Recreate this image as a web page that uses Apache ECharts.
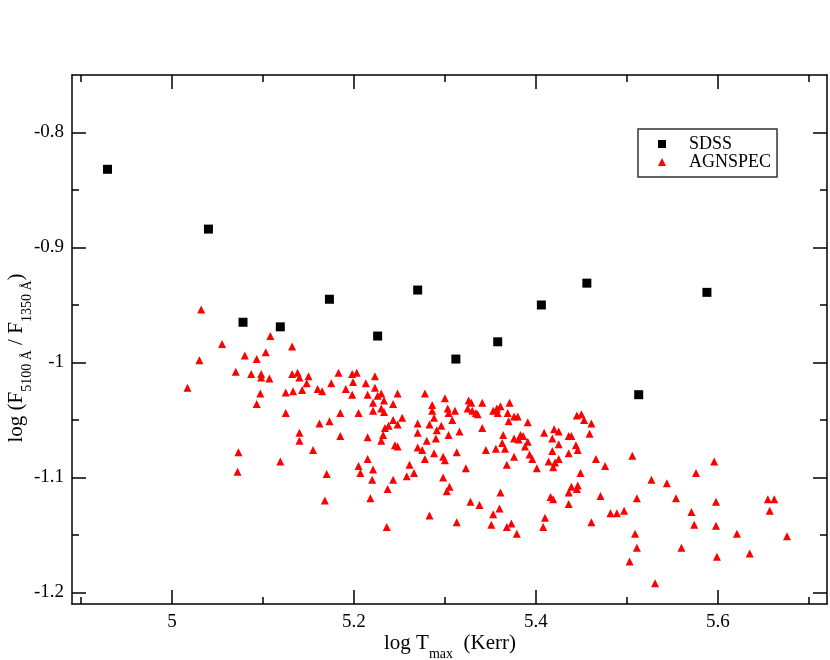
<!DOCTYPE html>
<html>
<head>
<meta charset="utf-8">
<script src="https://cdn.jsdelivr.net/npm/echarts@6/dist/echarts.min.js"></script>
<style>
html,body{margin:0;padding:0;background:#fff;}
#chart{width:830px;height:660px;}
</style>
</head>
<body>
<div id="chart"></div>
<script>
// ---- data ----
const sdssPoints = [
  [4.929,-0.832],[5.040,-0.884],[5.078,-0.965],[5.119,-0.969],[5.173,-0.945],
  [5.226,-0.977],[5.270,-0.937],[5.312,-0.997],[5.358,-0.982],[5.406,-0.950],
  [5.456,-0.931],[5.513,-1.028],[5.588,-0.939]
];
const agnspecPoints = [
  [5.032,-0.954],[5.055,-0.984],[5.108,-0.977],[5.080,-0.994],[5.103,-0.991],[5.093,-0.997],[5.030,-0.998],
  [5.070,-1.008],[5.087,-1.010],[5.098,-1.010],[5.098,-1.013],[5.107,-1.014],[5.017,-1.022],[5.097,-1.027],
  [5.093,-1.036],[5.073,-1.078],[5.072,-1.095],[5.119,-1.086],[5.132,-0.986],
  [5.132,-1.010],[5.138,-1.009],[5.140,-1.013],[5.150,-1.012],[5.148,-1.018],[5.125,-1.026],[5.133,-1.025],
  [5.143,-1.024],[5.160,-1.023],[5.165,-1.025],[5.175,-1.018],[5.183,-1.009],[5.198,-1.010],[5.203,-1.009],
  [5.199,-1.017],[5.191,-1.023],[5.198,-1.028],[5.213,-1.018],[5.223,-1.012],[5.223,-1.022],[5.215,-1.028],
  [5.226,-1.029],[5.230,-1.027],[5.248,-1.027],[5.221,-1.035],[5.233,-1.033],[5.243,-1.036],[5.230,-1.040],
  [5.221,-1.042],[5.233,-1.043],[5.278,-1.027],[5.300,-1.031],[5.286,-1.037],[5.286,-1.042],[5.303,-1.040],
  [5.304,-1.044],[5.125,-1.044],[5.185,-1.044],[5.205,-1.044],[5.162,-1.053],[5.173,-1.051],[5.140,-1.061],
  [5.140,-1.068],[5.185,-1.064],[5.155,-1.076],[5.170,-1.097],[5.168,-1.120],[5.215,-1.065],[5.230,-1.068],
  [5.232,-1.063],[5.234,-1.057],[5.238,-1.055],[5.243,-1.050],[5.248,-1.054],[5.253,-1.048],[5.245,-1.072],
  [5.248,-1.073],[5.215,-1.084],[5.205,-1.090],[5.221,-1.093],[5.207,-1.096],[5.220,-1.102],[5.243,-1.102],
  [5.237,-1.110],[5.218,-1.118],[5.236,-1.143],[5.261,-1.089],[5.258,-1.099],[5.266,-1.096],[5.270,-1.053],
  [5.270,-1.061],[5.283,-1.054],[5.288,-1.048],[5.296,-1.055],[5.291,-1.059],[5.290,-1.066],[5.280,-1.068],
  [5.270,-1.074],[5.275,-1.076],[5.288,-1.079],[5.278,-1.084],[5.298,-1.082],[5.300,-1.085],[5.298,-1.100],
  [5.302,-1.112],[5.305,-1.108],[5.283,-1.133],[5.304,-1.063],
  [5.326,-1.033],[5.329,-1.035],[5.341,-1.035],[5.371,-1.035],[5.311,-1.042],[5.325,-1.040],[5.330,-1.042],
  [5.334,-1.044],[5.336,-1.045],[5.353,-1.042],[5.357,-1.040],[5.361,-1.038],[5.358,-1.044],[5.369,-1.044],
  [5.376,-1.047],[5.380,-1.047],[5.370,-1.051],[5.391,-1.052],[5.308,-1.050],[5.341,-1.057],[5.316,-1.060],
  [5.364,-1.063],[5.376,-1.066],[5.383,-1.063],[5.386,-1.064],[5.381,-1.067],[5.391,-1.069],[5.363,-1.070],
  [5.388,-1.073],[5.366,-1.075],[5.356,-1.075],[5.345,-1.076],[5.313,-1.078],[5.376,-1.082],[5.393,-1.080],
  [5.396,-1.084],[5.368,-1.089],[5.401,-1.092],[5.323,-1.092],[5.361,-1.113],[5.328,-1.121],[5.338,-1.124],
  [5.360,-1.127],[5.353,-1.132],[5.313,-1.139],[5.351,-1.141],[5.368,-1.143],[5.373,-1.140],[5.379,-1.149],
  [5.409,-1.061],[5.420,-1.058],[5.425,-1.060],[5.418,-1.066],[5.436,-1.064],[5.439,-1.064],[5.425,-1.071],
  [5.418,-1.077],[5.414,-1.086],[5.425,-1.084],[5.421,-1.087],[5.419,-1.091],[5.436,-1.079],[5.444,-1.072],
  [5.446,-1.076],[5.445,-1.046],[5.450,-1.045],[5.453,-1.050],[5.461,-1.053],[5.459,-1.062],[5.449,-1.096],
  [5.466,-1.084],[5.476,-1.090],[5.439,-1.108],[5.446,-1.107],[5.445,-1.110],[5.436,-1.113],[5.416,-1.117],
  [5.419,-1.119],[5.436,-1.123],[5.471,-1.116],[5.410,-1.135],[5.408,-1.143],[5.461,-1.139],[5.482,-1.131],
  [5.489,-1.131],
  [5.506,-1.081],[5.596,-1.086],[5.576,-1.096],[5.527,-1.102],[5.544,-1.105],[5.511,-1.118],[5.554,-1.118],
  [5.598,-1.121],[5.497,-1.129],[5.571,-1.130],[5.574,-1.141],[5.598,-1.142],[5.655,-1.119],[5.662,-1.119],
  [5.657,-1.129],[5.621,-1.149],[5.676,-1.151],[5.509,-1.149],[5.511,-1.161],[5.560,-1.161],[5.599,-1.169],
  [5.635,-1.166],[5.503,-1.173],[5.531,-1.192]
];
const xMajorTicks = [5, 5.2, 5.4, 5.6];
const xMinorTicks = [4.9, 5.1, 5.3, 5.5, 5.7];
const yMajorTicks = [-1.2, -1.1, -1, -0.9, -0.8];
const yMinorTicks = [-1.15, -1.05, -0.95, -0.85];
const xRange = [4.89, 5.72];
const yRange = [-1.21, -0.75];
const seriesNames = ['SDSS', 'AGNSPEC'];

// ---- chart ----
const FONT = 'Liberation Serif';
const chart = echarts.init(document.getElementById('chart'), null, {renderer: 'canvas'});
const lineStyle = {color: '#000', width: 1.5};

function xAxisDef(position, ticks, len, showLine, showLabels) {
  return {
    type: 'value', position: position, min: xRange[0], max: xRange[1],
    axisLine: {show: showLine, onZero: false, lineStyle: lineStyle},
    axisTick: {show: true, inside: true, length: len, customValues: ticks, lineStyle: lineStyle},
    axisLabel: showLabels ? {show: true, customValues: ticks, fontFamily: FONT, fontSize: 19, color: '#000', margin: 9} : {show: false},
    splitLine: {show: false}, minorTick: {show: false}
  };
}
function yAxisDef(position, ticks, len, showLine, showLabels) {
  return {
    type: 'value', position: position, min: yRange[0], max: yRange[1],
    axisLine: {show: showLine, onZero: false, lineStyle: lineStyle},
    axisTick: {show: true, inside: true, length: len, customValues: ticks, lineStyle: lineStyle},
    axisLabel: showLabels ? {show: true, customValues: ticks, fontFamily: FONT, fontSize: 19, color: '#000', margin: 8} : {show: false},
    splitLine: {show: false}, minorTick: {show: false}
  };
}

const richTitle = {
  n: {fontFamily: FONT, fontSize: 21, lineHeight: 24, verticalAlign: 'top', color: '#000'},
  s: {fontFamily: FONT, fontSize: 14, lineHeight: 14, verticalAlign: 'top', padding: [14, 0, 0, 0], color: '#000'}
};

const option = {
  animation: false,
  backgroundColor: '#fff',
  grid: {left: 72, right: 3, top: 75, bottom: 56, containLabel: false},
  xAxis: [
    xAxisDef('bottom', xMajorTicks, 14, true, true),
    xAxisDef('bottom', xMinorTicks, 7, false, false),
    xAxisDef('top', xMajorTicks, 14, true, false),
    xAxisDef('top', xMinorTicks, 7, false, false)
  ],
  yAxis: [
    yAxisDef('left', yMajorTicks, 14, true, true),
    yAxisDef('left', yMinorTicks, 7, false, false),
    yAxisDef('right', yMajorTicks, 14, true, false),
    yAxisDef('right', yMinorTicks, 7, false, false)
  ],
  legend: {
    orient: 'vertical', left: 638, top: 129,
    data: [
      {name: seriesNames[0], icon: 'rect', itemStyle: {opacity: 1}},
      {name: seriesNames[1], icon: 'triangle', itemStyle: {opacity: 1}}
    ],
    itemWidth: 8, itemHeight: 8, itemGap: 0,
    padding: [6, 6, 6, 20],
    borderColor: '#333', borderWidth: 1.5,
    textStyle: {fontFamily: FONT, fontSize: 18, color: '#000', lineHeight: 18, padding: [0, 0, 0, 18]},
    selectedMode: false
  },
  graphic: [
    {
      type: 'text', x: 450, y: 645,
      style: {
        text: '{n|log T}{s|max}{n|  (Kerr)}',
        align: 'center', verticalAlign: 'middle',
        textAlign: 'center', textVerticalAlign: 'middle',
        fill: '#000',
        rich: richTitle
      }
    },
    {
      type: 'text', x: 18, y: 358, rotation: Math.PI / 2,
      style: {
        text: '{n|log (F}{s|5100 Å}{n| / F}{s|1350 Å}{n|)}',
        align: 'center', verticalAlign: 'middle',
        textAlign: 'center', textVerticalAlign: 'middle',
        fill: '#000',
        rich: richTitle
      }
    }
  ],
  series: [
    {
      name: seriesNames[0], type: 'scatter', xAxisIndex: 0, yAxisIndex: 0,
      symbol: 'rect', symbolSize: 9,
      itemStyle: {color: '#000', opacity: 1},
      data: sdssPoints, z: 3
    },
    {
      name: seriesNames[1], type: 'scatter', xAxisIndex: 0, yAxisIndex: 0,
      symbol: 'triangle', symbolSize: 8,
      itemStyle: {color: '#ff0000', opacity: 1},
      data: agnspecPoints, z: 3
    }
  ]
};
chart.setOption(option);
</script>
</body>
</html>
